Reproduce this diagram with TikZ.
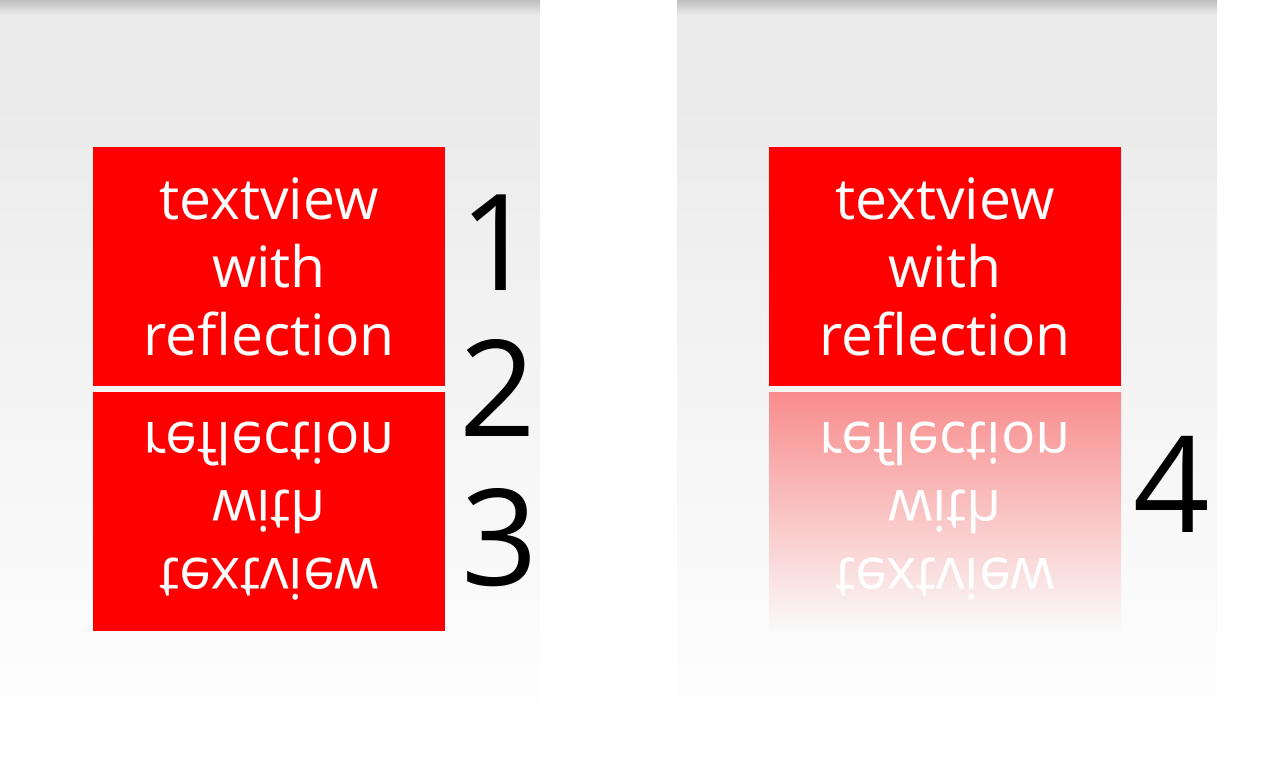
\documentclass[tikz,border=0pt]{standalone}
\usepackage{fontspec}
\setmainfont{Open Sans}
\usepackage{tikz}
\usetikzlibrary{positioning}
\definecolor{panelgrey}{RGB}{235,235,235}
\definecolor{shadowgrey}{RGB}{190,190,190}
\definecolor{viewred}{RGB}{255,0,0}
\definecolor{fadedred}{RGB}{249,140,140}
\definecolor{fadedend}{RGB}{250,250,250}
\tikzset{
  viewbox/.style={fill=viewred,text=white,align=center,inner sep=0pt,
    minimum width=352pt,minimum height=239pt,font=\fontsize{57}{68}\selectfont},
  mirrorbox/.style={viewbox,yscale=-1},
  fadebox/.style={mirrorbox,fill=none},
  numlab/.style={inner sep=0pt,text=black,font=\fontsize{134}{134}\selectfont}
}
\newcommand{\viewtext}{textview\\with\\reflection}
\begin{document}
\begin{tikzpicture}[x=1pt,y=-1pt]
  \useasboundingbox (0,0) rectangle (1280,779);
  % two panels
  \foreach \px in {0,677}{
    \shade[top color=panelgrey,bottom color=white] (\px,100) rectangle ++(540,645);
    \fill[panelgrey] (\px,14) rectangle ++(540,87);
    \shade[top color=shadowgrey,bottom color=panelgrey] (\px,0) rectangle ++(540,15);
  }
  % left panel
  \node[viewbox] (top1) at (269,266.5) {\viewtext};
  \node[mirrorbox] (refl1) at (269,511.5) {\viewtext};
  \node[numlab] (one) at (498,243) {1};
  \node[numlab] (two) at (498,388) {2};
  \node[numlab] (three) at (500,538) {3};
  % right panel
  \node[viewbox] (top2) at (945,266.5) {\viewtext};
  \shade[top color=fadedred,bottom color=fadedend] (769,392) rectangle (1121,631);
  \node[fadebox] (refl2) at (945,511.5) {\viewtext};
  \node[numlab] (four) at (1172,484) {4};
\end{tikzpicture}
\end{document}
